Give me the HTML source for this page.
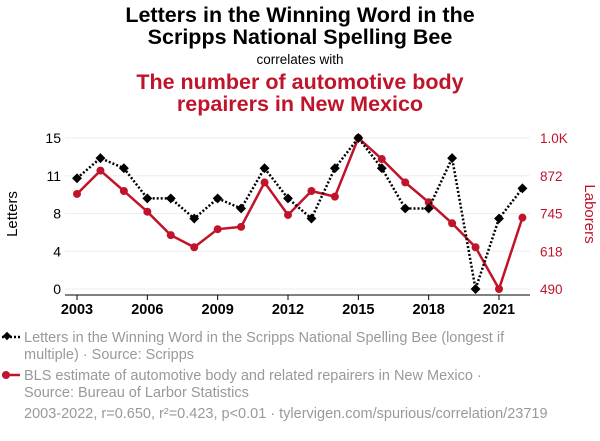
<!DOCTYPE html>
<html><head><meta charset="utf-8"><style>
body{margin:0;width:600px;height:436px;background:#fff;font-family:"Liberation Sans",sans-serif;overflow:hidden}
svg text{font-family:"Liberation Sans",sans-serif}
</style></head><body>
<svg width="600" height="436">
<text x="300" y="22" text-anchor="middle" font-size="21.5" font-weight="bold" fill="#000">Letters in the Winning Word in the</text>
<text x="300" y="44" text-anchor="middle" font-size="21.5" font-weight="bold" fill="#000">Scripps National Spelling Bee</text>
<text x="300" y="64" text-anchor="middle" font-size="13.5" fill="#000">correlates with</text>
<text x="300" y="89" text-anchor="middle" font-size="21.5" font-weight="bold" fill="#c0142b">The number of automotive body</text>
<text x="300" y="111" text-anchor="middle" font-size="21.5" font-weight="bold" fill="#c0142b">repairers in New Mexico</text>
<g id="grid"></g><g id="axes"></g><g id="series"></g>
<text transform="translate(17,214) rotate(-90)" text-anchor="middle" font-size="15" fill="#000">Letters</text>
<text transform="translate(585,214) rotate(90)" text-anchor="middle" font-size="15" fill="#c0142b">Laborers</text>
<g>
<line x1="2" y1="337" x2="20" y2="337" stroke="#000" stroke-width="2.5" stroke-dasharray="2,2"/>
<rect x="4" y="333" width="6" height="6" transform="rotate(45 7 336)" fill="#000"/>
<text x="24" y="342" font-size="14.5" fill="#999">Letters in the Winning Word in the Scripps National Spelling Bee (longest if</text>
<text x="24" y="359" font-size="14.5" fill="#999">multiple) · Source: Scripps</text></g>
<g>
<line x1="2" y1="375" x2="20" y2="375" stroke="#c0142b" stroke-width="2.5"/>
<circle cx="6" cy="375" r="4" fill="#c0142b"/>
<text x="24" y="380" font-size="14.5" fill="#999">BLS estimate of automotive body and related repairers in New Mexico ·</text>
<text x="24" y="397" font-size="14.5" fill="#999">Source: Bureau of Larbor Statistics</text></g>
<text x="24" y="418" font-size="14.5" fill="#999">2003-2022, r=0.650, r²=0.423, p&lt;0.01 · tylervigen.com/spurious/correlation/23719</text>
</svg>
<script>
const years=[2003,2004,2005,2006,2007,2008,2009,2010,2011,2012,2013,2014,2015,2016,2017,2018,2019,2020,2021,2022];
const letters=[11,13,12,9,9,7,9,8,12,9,7,12,15,12,8,8,13,0,7,10];
const laborers=[811,890,821,751,672,631,692,700,850,740,821,802,1000,929,850,783,712,631,490,731];
const leftTicks=["0","4","8","11","15"];
const rightTicks=["490","618","745","872","1.0K"];
const xTicks=[2003,2006,2009,2012,2015,2018,2021];
const NS="http://www.w3.org/2000/svg";
const x=y=>77+(y-2003)*(422/18);
const yL=v=>289-v/15*151;
const yR=v=>289-(v-490)/510*151;
function mk(t,a,p){const e=document.createElementNS(NS,t);for(const k in a)e.setAttribute(k,a[k]);p.appendChild(e);return e;}
const grid=document.getElementById('grid'),axes=document.getElementById('axes'),ser=document.getElementById('series');
leftTicks.forEach((t,i)=>{const yy=289-i*151/4;
 const g=mk('line',{x1:65,x2:530,y1:yy,y2:yy,stroke:'#eee','stroke-width':1},grid);
 
 
 const l=mk('text',{x:61,y:yy+5,'text-anchor':'end','font-size':14,fill:'#000'},axes);l.textContent=t;
 
 
 const r=mk('text',{x:540,y:yy+5,'font-size':13.5,fill:'#c0142b'},axes);r.textContent=rightTicks[i];
 
 
});
mk('line',{x1:65,x2:530,y1:295,y2:295,stroke:'#000','stroke-width':1},axes);
xTicks.forEach(t=>{mk('line',{x1:x(t),x2:x(t),y1:295,y2:300,stroke:'#000'},axes);
 const l=mk('text',{x:x(t),y:314,'text-anchor':'middle','font-size':14.5,'font-weight':'bold',fill:'#000'},axes);l.textContent=t;
 
 
});
const rp=mk('polyline',{points:years.map((y,i)=>x(y)+','+yR(laborers[i])).join(' '),fill:'none',stroke:'#c0142b','stroke-width':2.5},ser);


years.forEach((y,i)=>{const c=mk('circle',{cx:x(y),cy:yR(laborers[i]),r:4,fill:'#c0142b'},ser);
 
 });
const lp=mk('polyline',{points:years.map((y,i)=>x(y)+','+yL(letters[i])).join(' '),fill:'none',stroke:'#000','stroke-width':2.5,'stroke-dasharray':'2,2'},ser);


years.forEach((y,i)=>{const cx=x(y),cy=yL(letters[i]);
 const d=mk('rect',{x:cx-3.5,y:cy-3.5,width:7,height:7,fill:'#000',transform:`rotate(45 ${cx} ${cy})`},ser);
 
 });
</script>
</body></html>
